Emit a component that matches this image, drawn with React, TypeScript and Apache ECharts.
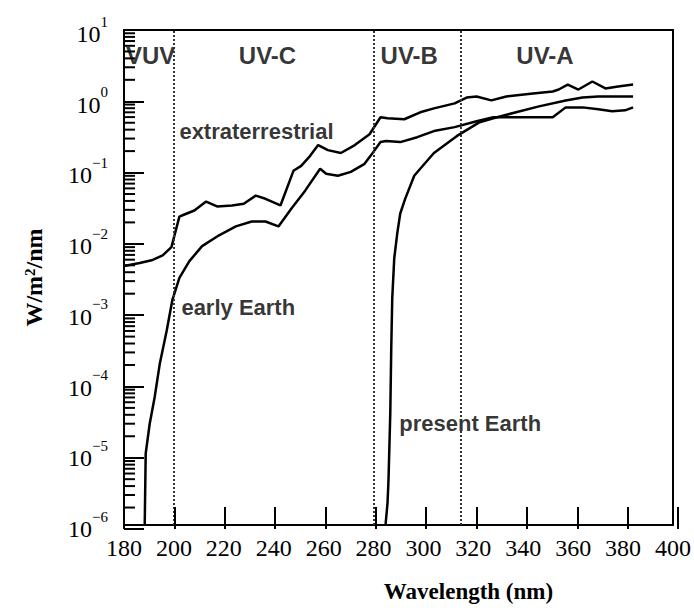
import React, { useEffect, useRef } from "react";
import * as echarts from "echarts";

// Wavelength (nm) and spectral irradiance (W/m^2/nm)
const extraterrestrialNm = [180, 186.3, 191.5, 195.5, 199, 202.2, 204.2, 208.2, 212.9, 217.3, 223.3, 228, 232.8, 236.7, 242.7, 247.9, 251, 254.6, 257.8, 261.7, 266.9, 272.5, 278.4, 282.8, 285.6, 292.3, 298.7, 304.2, 312.5, 317.3, 321.3, 327.2, 333.2, 343.9, 351.8, 354.2, 357.8, 362.1, 367.7, 372.9, 378, 384];
const extraterrestrialW = [0.0046, 0.00506, 0.0056, 0.0065, 0.0085, 0.023, 0.0246, 0.028, 0.0375, 0.032, 0.033, 0.035, 0.0455, 0.041, 0.033, 0.102, 0.12, 0.166, 0.236, 0.2, 0.182, 0.236, 0.336, 0.583, 0.565, 0.547, 0.686, 0.78, 0.916, 1.11, 1.15, 1.01, 1.15, 1.26, 1.35, 1.44, 1.69, 1.44, 1.87, 1.49, 1.59, 1.69];

const earlyEarthNm = [188.3, 188.7, 190.3, 192.3, 194.3, 197.1, 199.4, 202.2, 206.2, 211.3, 218.1, 224.8, 231.2, 236.7, 241.9, 247.1, 252.6, 258.6, 261, 265.7, 270.9, 276.4, 278.8, 282.8, 285, 290.7, 297.5, 304.2, 312.5, 321.3, 328, 331.2, 351.8, 357, 363.7, 370.1, 375.6, 380.8, 384];
const earlyEarthW = [0.000001, 0.0000103, 0.000027, 0.0000646, 0.000187, 0.00056, 0.00153, 0.00312, 0.0054, 0.00877, 0.0125, 0.0167, 0.0196, 0.0196, 0.0167, 0.0299, 0.0535, 0.109, 0.0925, 0.0867, 0.0986, 0.128, 0.166, 0.26, 0.269, 0.26, 0.305, 0.372, 0.423, 0.513, 0.583, 0.583, 0.583, 0.805, 0.805, 0.755, 0.708, 0.731, 0.805];

const presentEarthNm = [284.8, 285.6, 286, 286.7, 287.1, 287.5, 288.3, 289.5, 290.7, 292.7, 296.3, 298.7, 304.2, 313.3, 322.5, 328, 337.1, 346.3, 357, 363.7, 370.1, 375.6, 380.8, 384];
const presentEarthW = [0.000001, 0.00000204, 0.0000044, 0.0000373, 0.000325, 0.00163, 0.00594, 0.0133, 0.0254, 0.0413, 0.0867, 0.109, 0.182, 0.315, 0.497, 0.565, 0.686, 0.832, 1.01, 1.11, 1.15, 1.15, 1.15, 1.15];

// UV band boundaries and names
const bandEdgesNm = [200, 280, 315];
const bandNames = ["VUV", "UV-C", "UV-B", "UV-A"];
const bandLabelNm = [190.7, 237.5, 294.3, 348.7];
const bandLabelW = 4.4;

// curve annotations (anchor: left end of text, in data coordinates)
const curveNames = ["extraterrestrial", "early Earth", "present Earth"];
const curveLabelNm = [202.2, 203, 290.3];
const curveLabelW = [0.372, 0.00118, 0.000027];

// axes
const xMin = 180;
const xMax = 400;
const xStep = 20;
const yMin = 1e-6;
const yMax = 10;
const decadeValues = [1e-6, 1e-5, 1e-4, 1e-3, 1e-2, 1e-1, 1];
const minorMultipliers = [2, 3, 4, 5, 6, 7, 8, 9];

const zip = (xs: number[], ys: number[]) => xs.map((x, i) => [x, ys[i]]);

const gridBox = { left: 124, right: 16, top: 30, bottom: 79 };

export default function App() {
  const ref = useRef<HTMLDivElement>(null);
  const tickRef = useRef<HTMLDivElement>(null);

  useEffect(() => {
    if (!ref.current || !tickRef.current) return;
    const chart = echarts.init(ref.current, undefined, { renderer: "svg" });
    const tickChart = echarts.init(tickRef.current, undefined, { renderer: "svg" });

    const lineStyle = { color: "#000", width: 2.5 };
    const serif = "'Liberation Serif', 'Times New Roman', serif";
    const sans = "'Liberation Sans', Arial, sans-serif";

    chart.setOption({
      animation: false,
      grid: { ...gridBox, show: true, borderColor: "#000", borderWidth: 2 },
      xAxis: {
        type: "value",
        min: xMin,
        max: xMax,
        interval: xStep,
        name: "Wavelength (nm)",
        nameLocation: "middle",
        nameGap: 55,
        nameTextStyle: {
          fontFamily: serif,
          fontWeight: "bold",
          fontSize: 23,
          color: "#000",
          padding: [0, 0, 0, 140],
        },
        axisLine: { show: true, lineStyle: { color: "#000", width: 2 } },
        axisTick: { show: false },
        splitLine: { show: false },
        axisLabel: { margin: 11, fontFamily: serif, fontSize: 24, color: "#000" },
      },
      yAxis: {
        type: "log",
        logBase: 10,
        min: yMin,
        max: yMax,
        interval: 1,
        name: "{a|W/m}{s|2}{a|/nm}",
        nameLocation: "middle",
        nameGap: 78,
        nameTextStyle: {
          rich: {
            a: { fontFamily: serif, fontWeight: "bold", fontSize: 24, color: "#000" },
            s: { fontFamily: serif, fontWeight: "bold", fontSize: 15, color: "#000", verticalAlign: "top", padding: [0, 0, 8, 0] },
          },
        },
        axisLine: { show: true, lineStyle: { color: "#000", width: 2 } },
        axisTick: { show: false },
        splitLine: { show: false },
        axisLabel: {
          margin: 16,
          formatter: (v: number) => {
            const e = Math.round(Math.log10(v));
            return `{b|10}{s|${e < 0 ? "\u2212" + -e : e}}`;
          },
          rich: {
            b: { fontFamily: serif, fontSize: 24, color: "#000", padding: [8, 0, 0, 0] },
            s: { fontFamily: serif, fontSize: 15, color: "#000", verticalAlign: "top" },
          },
        },
      },
      series: [
        {
          name: "extraterrestrial",
          type: "line",
          data: zip(extraterrestrialNm, extraterrestrialW),
          symbol: "none",
          lineStyle,
          z: 3,
          markLine: {
            silent: true,
            symbol: ["none", "none"],
            label: { show: false },
            lineStyle: { color: "#333", width: 2, type: [2, 2] },
            data: bandEdgesNm.map((x) => ({ xAxis: x })),
          },
        },
        { name: "early Earth", type: "line", data: zip(earlyEarthNm, earlyEarthW), symbol: "none", lineStyle, z: 3 },
        { name: "present Earth", type: "line", data: zip(presentEarthNm, presentEarthW), symbol: "none", lineStyle, z: 3 },
        {
          name: "bands",
          type: "scatter",
          silent: true,
          symbolSize: 0,
          data: bandNames.map((n, i) => ({ name: n, value: [bandLabelNm[i], bandLabelW] })),
          label: { show: true, position: "inside", formatter: "{b}", fontFamily: sans, fontWeight: "bold", fontSize: 24, color: "#000" },
        },
        {
          name: "curve labels",
          type: "scatter",
          silent: true,
          symbolSize: 0,
          data: curveNames.map((n, i) => ({ name: n, value: [curveLabelNm[i], curveLabelW[i]] })),
          label: { show: true, position: "right", distance: 0, formatter: "{b}", fontFamily: sans, fontWeight: "bold", fontSize: 22, color: "#000" },
        },
      ],
    });

    // tick layer: same grid and scales, only the axis ticks (major) and log minor ticks
    const minorTicks: number[][] = [];
    decadeValues.forEach((d) => minorMultipliers.forEach((k) => minorTicks.push([xMin, k * d])));
    tickChart.setOption({
      animation: false,
      grid: { ...gridBox },
      xAxis: {
        type: "value",
        min: xMin,
        max: xMax,
        interval: xStep,
        axisLine: { show: false },
        axisTick: { show: true, inside: true, length: 22, lineStyle: { color: "#000", width: 2 } },
        axisLabel: { show: false },
        splitLine: { show: false },
      },
      yAxis: {
        type: "log",
        min: yMin,
        max: yMax,
        interval: 1,
        axisLine: { show: false },
        axisTick: { show: true, inside: true, length: 20, lineStyle: { color: "#000", width: 2 } },
        axisLabel: { show: false },
        splitLine: { show: false },
      },
      series: [
        {
          name: "minor ticks",
          type: "custom",
          silent: true,
          clip: false,
          data: minorTicks,
          renderItem: (_p: any, api: any) => {
            const p = api.coord([api.value(0), api.value(1)]);
            return {
              type: "line",
              shape: { x1: p[0], y1: p[1], x2: p[0] + 11, y2: p[1] },
              style: { stroke: "#000", lineWidth: 2 },
            };
          },
        },
      ],
    });

    return () => {
      chart.dispose();
      tickChart.dispose();
    };
  }, []);

  return (
    <div>
      <div
        ref={ref}
        style={{ position: "fixed", left: 0, top: 0, width: 694, height: 608, background: "#fff" }}
      />
      <div
        ref={tickRef}
        style={{ position: "fixed", left: 0, top: 0, width: 694, height: 608, zIndex: 1, pointerEvents: "none" }}
      />
    </div>
  );
}
